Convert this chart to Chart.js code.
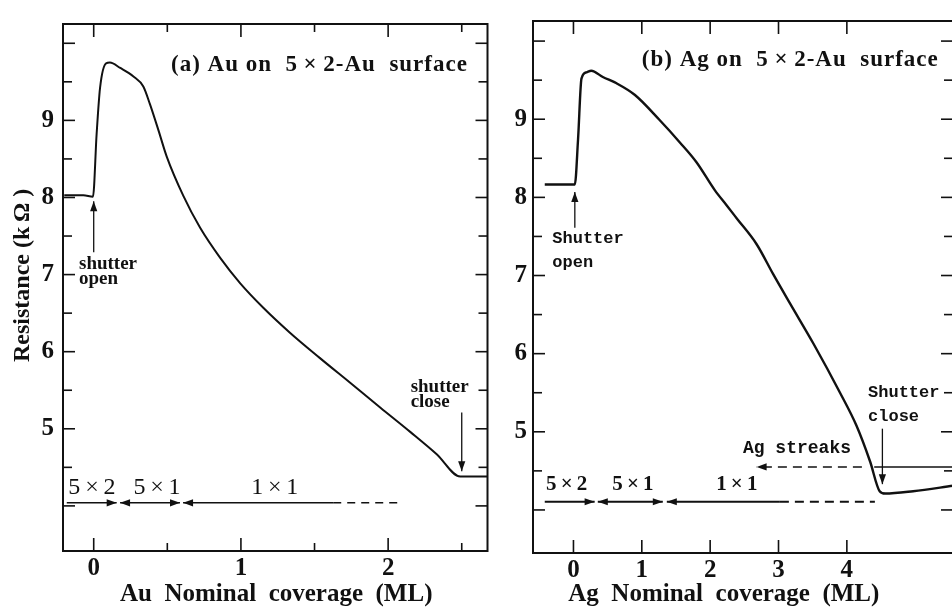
<!DOCTYPE html>
<html>
<head>
<meta charset="utf-8">
<script src="https://cdn.jsdelivr.net/npm/chart.js@4.4.0/dist/chart.umd.min.js"></script>
<style>
  body { margin: 0; background: #fff; width: 952px; height: 607px; overflow: hidden; position: relative; }
  #ca { position: absolute; left: 0; top: 0; }
  #cb { position: absolute; left: 490px; top: 0; }
</style>
</head>
<body>
<canvas id="ca" width="495" height="607"></canvas>
<canvas id="cb" width="470" height="607"></canvas>
<script>
// (a) Au on 5x2-Au surface: coverage (ML) vs resistance (kOhm)
const auCoverage   = [-0.2, -0.07, -0.005, 0.02, 0.043, 0.084, 0.11, 0.18, 0.27, 0.337, 0.382, 0.44, 0.496, 0.609, 0.722, 0.858, 0.994, 1.152, 1.331, 1.535, 1.74, 1.95, 2.15, 2.33, 2.49, 2.68];
const auResistance = [8.03, 8.03, 8.01, 8.83, 9.42, 9.74, 9.75, 9.68, 9.57, 9.44, 9.21, 8.87, 8.53, 8.02, 7.61, 7.22, 6.89, 6.57, 6.25, 5.92, 5.6, 5.27, 4.96, 4.67, 4.38, 4.38];

// (b) Ag on 5x2-Au surface
const agCoverage   = [-0.42, 0.02, 0.067, 0.117, 0.19, 0.26, 0.43, 0.63, 0.9, 1.26, 1.56, 1.8, 2.07, 2.24, 2.39, 2.68, 2.92, 3.17, 3.51, 3.9, 4.14, 4.34, 4.48, 4.56, 4.97, 5.56];
const agResistance = [8.165, 8.165, 8.74, 9.52, 9.6, 9.62, 9.54, 9.46, 9.31, 8.99, 8.7, 8.45, 8.09, 7.9, 7.73, 7.4, 7.02, 6.64, 6.13, 5.5, 5.08, 4.62, 4.24, 4.21, 4.24, 4.31];

// ticks
const resTicks    = [4, 4.5, 5, 5.5, 6, 6.5, 7, 7.5, 8, 8.5, 9, 9.5, 10];
const resLabels   = [5, 6, 7, 8, 9];
const auCovTicks  = [0, 0.5, 1, 1.5, 2, 2.5];
const auCovLabels = [0, 1, 2];
const agCovTicks  = [0, 1, 2, 3, 4];
const agCovLabels = [0, 1, 2, 3, 4];

const SERIF = '"Liberation Serif", "Times New Roman", serif';
const MONO = '"Liberation Mono", "Courier New", monospace';
const X = '\u2009\u00D7\u2009';

function pts(xs, ys) { return xs.map((x, i) => ({ x: x, y: ys[i] })); }

function head(ctx, x, y, ang) {
  ctx.save();
  ctx.translate(x, y);
  ctx.rotate(ang);
  ctx.beginPath();
  ctx.moveTo(0, 0);
  ctx.lineTo(-10, -3.6);
  ctx.lineTo(-10, 3.6);
  ctx.closePath();
  ctx.fill();
  ctx.restore();
}

// box, inward ticks, titles and annotations
const framePlugin = {
  id: 'frame',
  afterDatasetsDraw(chart, args, o) {
    const { ctx, chartArea: a, scales: { x, y } } = chart;
    ctx.save();
    ctx.strokeStyle = '#111';
    ctx.fillStyle = '#111';
    ctx.lineWidth = 2;
    ctx.strokeRect(a.left, a.top, a.right - a.left, a.bottom - a.top);

    ctx.lineWidth = 1.6;
    const seg = (x1, y1, x2, y2) => { ctx.beginPath(); ctx.moveTo(x1, y1); ctx.lineTo(x2, y2); ctx.stroke(); };
    o.xTicks.forEach(v => {
      const px = x.getPixelForValue(v);
      const len = Number.isInteger(v) ? 13 : 8;
      seg(px, a.bottom, px, a.bottom - len);
      seg(px, a.top, px, a.top + len);
    });
    o.yTicks.forEach(v => {
      const py = y.getPixelForValue(v);
      const len = Number.isInteger(v) ? 12 : 9;
      seg(a.left, py, a.left + len, py);
      seg(a.right, py, a.right - len, py);
    });

    o.notes.forEach(n => {
      ctx.setLineDash(n.dash || []);
      ctx.lineWidth = n.lw || 1.6;
      ctx.letterSpacing = n.ls || '0px';
      if (n.t === 'line') {
        const x1 = x.getPixelForValue(n.x1), y1 = y.getPixelForValue(n.y1);
        const x2 = x.getPixelForValue(n.x2), y2 = y.getPixelForValue(n.y2);
        seg(x1, y1, x2, y2);
        const ang = Math.atan2(y2 - y1, x2 - x1);
        if (n.head === 'end' || n.head === 'both') head(ctx, x2, y2, ang);
        if (n.head === 'start' || n.head === 'both') head(ctx, x1, y1, ang + Math.PI);
      } else if (n.t === 'text') {
        ctx.font = n.font;
        ctx.textAlign = n.align || 'left';
        ctx.textBaseline = 'middle';
        ctx.fillText(n.s, x.getPixelForValue(n.x), y.getPixelForValue(n.y));
      } else if (n.t === 'xtitle') {
        ctx.font = n.font;
        ctx.textAlign = 'center';
        ctx.textBaseline = 'middle';
        ctx.fillText(n.s, x.getPixelForValue(n.x), a.bottom + n.dy);
      } else if (n.t === 'ytitle') {
        ctx.font = n.font;
        ctx.textAlign = 'center';
        ctx.textBaseline = 'middle';
        ctx.translate(a.left + n.dx, y.getPixelForValue(n.y));
        ctx.rotate(-Math.PI / 2);
        ctx.fillText(n.s, 0, 0);
        ctx.setTransform(1, 0, 0, 1, 0, 0);
      }
    });
    ctx.restore();
  }
};

function makeChart(id, cfg) {
  return new Chart(document.getElementById(id), {
    type: 'line',
    data: {
      datasets: [{
        data: cfg.points,
        borderColor: '#111',
        borderWidth: cfg.lw,
        pointRadius: 0,
        cubicInterpolationMode: 'monotone',
        fill: false
      }]
    },
    options: {
      responsive: false,
      animation: false,
      events: [],
      layout: { padding: cfg.pad },
      plugins: {
        legend: { display: false },
        tooltip: { enabled: false },
        frame: { xTicks: cfg.xTicks, yTicks: resTicks, notes: cfg.notes }
      },
      scales: {
        x: {
          type: 'linear',
          min: cfg.xMin, max: cfg.xMax,
          grid: { display: false, drawTicks: false },
          border: { display: false },
          afterFit: s => { s.height = cfg.xH; },
          afterBuildTicks: s => { s.ticks = cfg.xLabels.map(v => ({ value: v })); },
          ticks: {
            autoSkip: false, maxRotation: 0, padding: 3,
            color: '#111', font: { family: SERIF, size: 25, weight: 'bold' }
          }
        },
        y: {
          type: 'linear',
          min: cfg.yMin, max: cfg.yMax,
          grid: { display: false, drawTicks: false },
          border: { display: false },
          afterFit: s => { s.width = cfg.yW; },
          afterBuildTicks: s => { s.ticks = resLabels.map(v => ({ value: v })); },
          ticks: {
            autoSkip: false, padding: cfg.yPad,
            color: '#111', font: { family: SERIF, size: 25, weight: 'bold' }
          }
        }
      }
    },
    plugins: [framePlugin]
  });
}

const fA = 'bold 19px ' + SERIF;
const fPhaseA = '24px ' + SERIF;
const fTitle = 'bold 23px ' + SERIF;
const fAxis = 'bold 25px ' + SERIF;

makeChart('ca', {
  points: pts(auCoverage, auResistance),
  lw: 2,
  pad: { top: 15, right: 7.5, bottom: 0, left: 0 },
  xMin: -0.2086, xMax: 2.675, xH: 56, yW: 63, yPad: 9,
  yMin: 3.415, yMax: 10.25,
  xTicks: auCovTicks, xLabels: auCovLabels,
  notes: [
    { t: 'xtitle', x: 1.24, dy: 44, s: 'Au  Nominal  coverage  (ML)', font: fAxis },
    { t: 'ytitle', x: 0, y: 6.99, dx: -40, s: 'Resistance (k\u2009\u03A9 )', font: 'bold 24px ' + SERIF },
    { t: 'text', x: 0.525, y: 9.716, s: '(a) Au on  5' + X + '2-Au  surface', font: fTitle, ls: '1px' },
    { t: 'line', x1: 0, y1: 7.29, x2: 0, y2: 7.95, head: 'end', lw: 1.3 },
    { t: 'text', x: -0.1, y: 7.14, s: 'shutter', font: fA },
    { t: 'text', x: -0.1, y: 6.94, s: 'open', font: fA },
    { t: 'line', x1: 2.5, y1: 5.21, x2: 2.5, y2: 4.45, head: 'end', lw: 1.3 },
    { t: 'text', x: 2.153, y: 5.54, s: 'shutter', font: fA },
    { t: 'text', x: 2.153, y: 5.35, s: 'close', font: fA },
    { t: 'line', x1: -0.183, y1: 4.04, x2: 0.156, y2: 4.04, head: 'end' },
    { t: 'line', x1: 0.179, y1: 4.04, x2: 0.586, y2: 4.04, head: 'both' },
    { t: 'line', x1: 0.607, y1: 4.04, x2: 1.627, y2: 4.04, head: 'start' },
    { t: 'line', x1: 1.627, y1: 4.04, x2: 2.1, y2: 4.04, dash: [8, 6] },
    { t: 'text', x: -0.012, y: 4.24, s: '5' + X + '2', font: fPhaseA, align: 'center' },
    { t: 'text', x: 0.43, y: 4.24, s: '5' + X + '1', font: fPhaseA, align: 'center' },
    { t: 'text', x: 1.23, y: 4.24, s: '1' + X + '1', font: fPhaseA, align: 'center' }
  ]
});

const fB = 'bold 17px ' + MONO;
const fPhaseB = 'bold 21px ' + SERIF;

makeChart('cb', {
  points: pts(agCoverage, agResistance),
  lw: 2.4,
  pad: { top: 13, right: 7, bottom: 0, left: 0 },
  xMin: -0.592, xMax: 5.553, xH: 54, yW: 43, yPad: 6,
  yMin: 3.449, yMax: 10.257,
  xTicks: agCovTicks, xLabels: agCovLabels,
  notes: [
    { t: 'text', x: 1.0, y: 9.754, s: '(b) Ag on  5' + X + '2-Au  surface', font: fTitle, ls: '1px' },
    { t: 'xtitle', x: 2.2, dy: 42, s: 'Ag  Nominal  coverage  (ML)', font: fAxis },
    { t: 'line', x1: 0.02, y1: 7.61, x2: 0.02, y2: 8.07, head: 'end', lw: 1.3 },
    { t: 'text', x: -0.31, y: 7.47, s: 'Shutter', font: fB },
    { t: 'text', x: -0.31, y: 7.16, s: 'open', font: fB },
    { t: 'line', x1: 4.52, y1: 5.04, x2: 4.52, y2: 4.33, head: 'end', lw: 1.3 },
    { t: 'text', x: 4.31, y: 5.5, s: 'Shutter', font: fB },
    { t: 'text', x: 4.31, y: 5.19, s: 'close', font: fB },
    { t: 'text', x: 2.48, y: 4.79, s: 'Ag streaks', font: 'bold 18px ' + MONO },
    { t: 'line', x1: 4.22, y1: 4.55, x2: 2.68, y2: 4.55, head: 'end', dash: [9, 6] },
    { t: 'line', x1: 4.4, y1: 4.55, x2: 5.56, y2: 4.55 },
    { t: 'line', x1: -0.42, y1: 4.105, x2: 0.31, y2: 4.105, head: 'end', lw: 2 },
    { t: 'line', x1: 0.356, y1: 4.105, x2: 1.307, y2: 4.105, head: 'both', lw: 2 },
    { t: 'line', x1: 1.366, y1: 4.105, x2: 3.02, y2: 4.105, head: 'start', lw: 2 },
    { t: 'line', x1: 3.02, y1: 4.105, x2: 4.41, y2: 4.105, dash: [9, 6], lw: 2 },
    { t: 'text', x: -0.1, y: 4.32, s: '5' + X + '2', font: fPhaseB, align: 'center' },
    { t: 'text', x: 0.87, y: 4.32, s: '5' + X + '1', font: fPhaseB, align: 'center' },
    { t: 'text', x: 2.39, y: 4.32, s: '1' + X + '1', font: fPhaseB, align: 'center' }
  ]
});
</script>
</body>
</html>
